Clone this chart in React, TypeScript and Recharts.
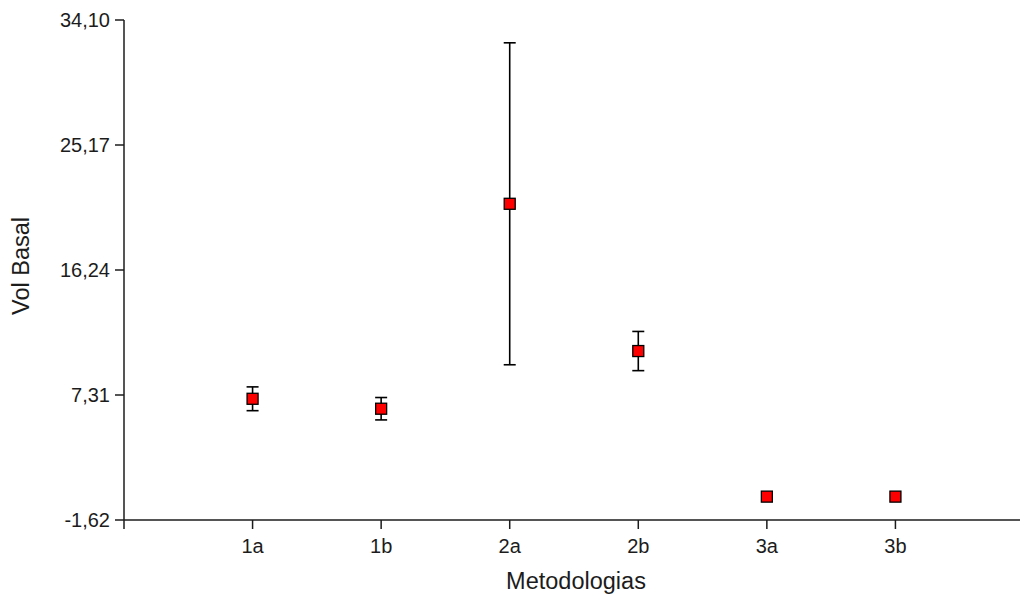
import { ScatterChart, Scatter, XAxis, YAxis, ErrorBar } from "recharts"

const categories = ["1a", "1b", "2a", "2b", "3a", "3b"]
const means = [7.04, 6.33, 20.97, 10.45, 0.05, 0.05]
const errors = [0.85, 0.8, 11.5, 1.4, 0, 0]
const yTicks = [-1.62, 7.31, 16.24, 25.17, 34.1]

const data = categories.map((c, i) => ({ x: i + 1, y: means[i], err: errors[i], name: c }))

const font = "'Liberation Sans', Arial, sans-serif"
const ink = "#1c1c1c"

const fmtY = (v: number) => v.toFixed(2).replace(".", ",")
const fmtX = (v: number) => (v >= 1 && v <= categories.length ? categories[v - 1] : "")

function Marker(props: any) {
  const { cx, cy } = props
  return <rect x={cx - 5.5} y={cy - 5.5} width={11} height={11} fill="#ff0000" stroke="#000" strokeWidth={1.3} />
}

export default function App() {
  return (
    <div style={{ position: "absolute", left: 0, top: 0, width: 1020, height: 594, overflow: "hidden", background: "#fff" }}>
      <ScatterChart width={1030} height={594} margin={{ top: 20, right: 6, left: 0, bottom: 0 }}>
        <XAxis
          type="number"
          dataKey="x"
          domain={[0, 7]}
          ticks={[0, 1, 2, 3, 4, 5, 6]}
          tickFormatter={fmtX}
          height={74}
          tickSize={9}
          tickMargin={10}
          stroke={ink}
          strokeWidth={1.5}
          tick={{ fill: ink, fontSize: 20, fontFamily: font }}
          label={{
            content: () => (
              <text x={576} y={589} textAnchor="middle" fill={ink} fontSize={23.5} fontFamily={font}>
                Metodologias
              </text>
            ),
          }}
        />
        <YAxis
          type="number"
          dataKey="y"
          domain={[-1.62, 34.1]}
          ticks={yTicks}
          tickFormatter={fmtY}
          width={124}
          tickSize={9}
          tickMargin={5}
          stroke={ink}
          strokeWidth={1.5}
          tick={{ fill: ink, fontSize: 20, fontFamily: font }}
          label={{
            content: () => (
              <text
                x={28.5}
                y={266}
                transform="rotate(-90 28.5 266)"
                textAnchor="middle"
                fill={ink}
                fontSize={23.5}
                fontFamily={font}
              >
                Vol Basal
              </text>
            ),
          }}
        />
        <Scatter data={data} shape={Marker} isAnimationActive={false}>
          <ErrorBar dataKey="err" direction="y" width={6} stroke="#000" strokeWidth={1.6} isAnimationActive={false} />
        </Scatter>
      </ScatterChart>
    </div>
  )
}
